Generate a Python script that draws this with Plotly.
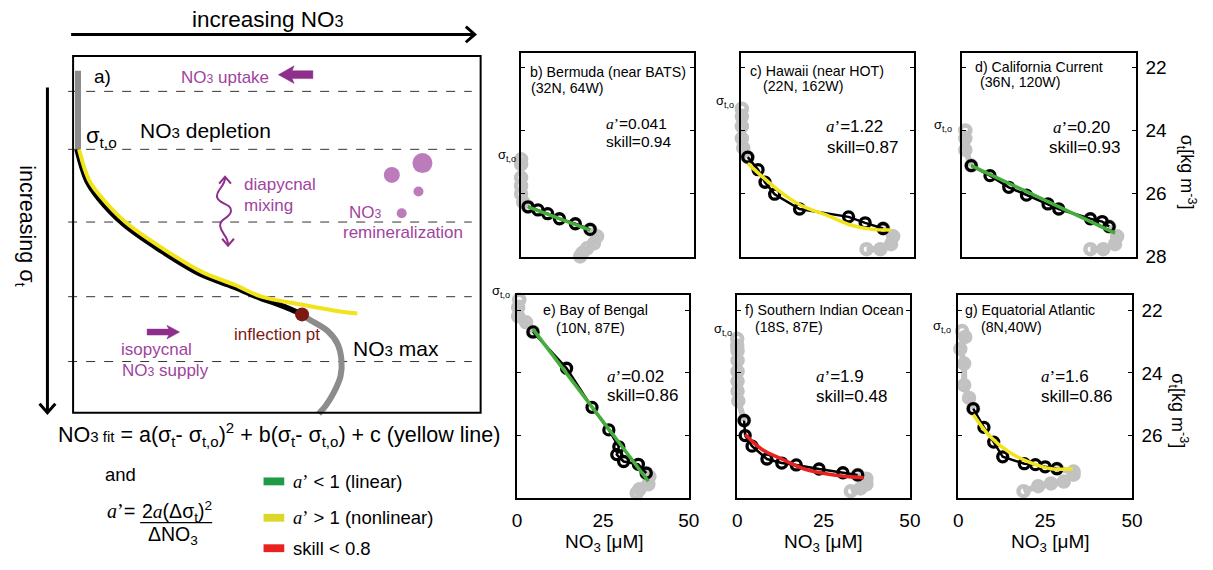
import plotly.graph_objects as go

W, H = 1213, 570
SANS = "Liberation Sans, Arial, sans-serif"
SERIF = "Liberation Serif"
PURPLE = "#a0449e"
PURPLE_D = "#8e2f8c"
GRAYPT = "#c2c2c2"
GREEN = "#45ad3c"
YELLOW = "#f1e41b"
RED = "#e8231f"

# ---------------- schematic panel a (canvas pixel units) ----------------
a_gray_top_x = [74, 74]
a_gray_top_y = [72, 152]
a_black_x = [73, 83, 95, 120, 158, 198, 232, 260, 275, 290, 301]
a_black_y = [152, 184, 202, 228, 255, 279, 292, 304, 309, 315, 320]
a_yellow_x = [75, 85, 97, 122, 160, 200, 233, 260, 300, 333, 357]
a_yellow_y = [152, 183, 200, 226, 253, 277, 290, 302, 310, 316, 319]
a_gray_bot_x = [301, 308, 327, 337, 341, 340, 333, 325, 318]
a_gray_bot_y = [320, 325, 337, 350, 367, 383, 400, 413, 421]
a_inflect_x = [301]
a_inflect_y = [320]
a_dash_y = [93, 152, 226, 302, 368]
a_dots_x = [423, 392, 419, 402]
a_dots_y = [166, 178, 195, 217]
a_dots_size = [20, 16, 10, 10]

# ---------------- profile panels (NO3 [uM] vs sigma_t) ----------------
b_gray_top_x = [0, 0, 0, 0, 0, 0.6, 2.0]
b_gray_top_y = [24.91, 25.07, 25.49, 25.75, 26.01, 26.27, 26.42]
b_black_x = [2.0, 4.9, 7.7, 11.1, 15.7, 20.0]
b_black_y = [26.42, 26.52, 26.64, 26.80, 26.96, 27.14]
b_fit_x = [2.0, 20.0]
b_fit_y = [26.42, 27.16]
b_gray_bot_x = [20.0, 22.0, 21.1, 19.1, 17.7, 17.1]
b_gray_bot_y = [27.14, 27.36, 27.58, 27.74, 27.89, 28.0]

c_gray_top_x = [0.2, 0.2, 0.2, 0.2, 0.6, 1.9]
c_gray_top_y = [23.30, 23.55, 23.86, 24.24, 24.55, 24.84]
c_black_x = [1.9, 4.9, 6.9, 9.7, 16.9, 31.1, 35.9, 41.1]
c_black_y = [24.84, 25.24, 25.64, 26.02, 26.49, 26.74, 26.93, 27.11]
c_fit_x = [1.9, 10.6, 17.4, 24.9, 31.7, 37.4, 43.4]
c_fit_y = [25.04, 25.88, 26.38, 26.69, 27.00, 27.13, 27.16]
c_gray_bot_x = [41.1, 44.0, 43.4, 40.3, 36.3]
c_gray_bot_y = [27.11, 27.36, 27.61, 27.77, 27.77]

d_gray_top_x = [0.9, 0.9, 0.9, 2.6]
d_gray_top_y = [23.99, 24.24, 24.61, 25.11]
d_black_x = [2.6, 8.0, 13.4, 18.5, 24.7, 27.8, 36.9, 40.3, 42.3]
d_black_y = [25.11, 25.43, 25.80, 26.05, 26.33, 26.49, 26.80, 26.89, 27.05]
d_fit_x = [2.6, 44.0]
d_fit_y = [25.11, 27.26]
d_gray_bot_x = [42.3, 44.6, 44.0, 40.6, 36.9]
d_gray_bot_y = [27.05, 27.36, 27.61, 27.77, 27.77]

e_gray_top_x = [0.6, 0.3, 0.3, 2.6, 4.6]
e_gray_top_y = [21.66, 21.91, 22.19, 22.38, 22.69]
e_black_x = [4.6, 14.4, 21.8, 26.7, 29.6, 29.0, 31.0, 35.3, 37.6]
e_black_y = [22.69, 23.85, 25.10, 25.82, 26.36, 26.61, 26.83, 26.92, 27.20]
e_fit_x = [4.6, 38.2]
e_fit_y = [22.60, 27.46]
e_gray_bot_x = [37.6, 38.5, 38.2, 35.6, 34.8]
e_gray_bot_y = [27.20, 27.31, 27.56, 27.72, 27.84]

f_gray_top_x = [0, 0, 0.1, 0.1, 0.1, 0.1, 0.1, 0.3, 2.0]
f_gray_top_y = [22.91, 23.13, 23.29, 23.60, 23.95, 24.26, 24.58, 24.89, 25.52]
f_black_x = [2.0, 2.3, 4.3, 8.6, 12.9, 17.1, 23.7, 30.6, 34.9]
f_black_y = [25.52, 26.00, 26.34, 26.75, 26.88, 26.94, 27.07, 27.19, 27.26]
f_fit_x = [2.3, 7.1, 12.9, 19.4, 28.0, 36.6]
f_fit_y = [25.97, 26.44, 26.75, 27.07, 27.26, 27.35]
f_gray_bot_x = [34.9, 37.4, 37.4, 35.7, 32.9]
f_gray_bot_y = [27.26, 27.38, 27.56, 27.69, 27.78]

g_gray_top_x = [1.1, 2.0, 0.6, 1.7, 1.7, 3.1, 4.3]
g_gray_top_y = [22.66, 22.85, 23.23, 23.70, 24.39, 24.80, 25.14]
g_black_x = [4.3, 7.4, 10.2, 12.8, 19.0, 22.2, 25.0, 28.4]
g_black_y = [25.14, 25.74, 26.21, 26.68, 26.90, 26.93, 27.00, 27.06]
g_fit_x = [4.3, 8.8, 14.5, 20.2, 26.7, 33.0]
g_fit_y = [25.33, 25.99, 26.52, 26.84, 27.06, 27.06]
g_gray_bot_x = [28.4, 33.2, 33.2, 30.4, 26.7, 23.0, 18.8]
g_gray_bot_y = [27.06, 27.15, 27.25, 27.47, 27.53, 27.62, 27.78]

panel_titles = [("b) Bermuda (near BATS)", "(32N, 64W)"),
                ("c) Hawaii (near HOT)", "(22N, 162W)"),
                ("d) California Current", "(36N, 120W)"),
                ("e) Bay of Bengal", "(10N, 87E)"),
                ("f) Southern Indian Ocean", "(18S, 87E)"),
                ("g) Equatorial Atlantic", "(8N,40W)")]
panel_aprime = ["0.041", "1.22", "0.20", "0.02", "1.9", "1.6"]
panel_skill = ["0.94", "0.87", "0.93", "0.86", "0.48", "0.86"]
panel_fitcolor = [GREEN, YELLOW, GREEN, GREEN, RED, YELLOW]
x_ticks = [0, 25, 50]
y_ticks = [22, 24, 26, 28]

# ---------------- layout geometry (pixels) ----------------
boxes = [(523, 54, 698, 262), (746, 54, 921, 262), (970, 54, 1146, 262),
         (519, 300, 693, 507), (742, 300, 917, 507), (966, 300, 1142, 507)]
yranges = [[28.03, 21.53]] * 3 + [[28.0, 21.5]] * 3

series = [
    (b_gray_top_x, b_gray_top_y, b_black_x, b_black_y, b_fit_x, b_fit_y, b_gray_bot_x, b_gray_bot_y),
    (c_gray_top_x, c_gray_top_y, c_black_x, c_black_y, c_fit_x, c_fit_y, c_gray_bot_x, c_gray_bot_y),
    (d_gray_top_x, d_gray_top_y, d_black_x, d_black_y, d_fit_x, d_fit_y, d_gray_bot_x, d_gray_bot_y),
    (e_gray_top_x, e_gray_top_y, e_black_x, e_black_y, e_fit_x, e_fit_y, e_gray_bot_x, e_gray_bot_y),
    (f_gray_top_x, f_gray_top_y, f_black_x, f_black_y, f_fit_x, f_fit_y, f_gray_bot_x, f_gray_bot_y),
    (g_gray_top_x, g_gray_top_y, g_black_x, g_black_y, g_fit_x, g_fit_y, g_gray_bot_x, g_gray_bot_y),
]

fig = go.Figure()

# ---- panel a traces (canvas axis x/y) ----
def canvas_line(xs, ys, color, width):
    fig.add_trace(go.Scatter(x=xs, y=ys, mode="lines", line=dict(color=color, width=width, shape="spline"),
                             xaxis="x", yaxis="y", hoverinfo="skip", showlegend=False))

canvas_line(a_gray_top_x, a_gray_top_y, "#8c8c8c", 6)
canvas_line(a_gray_bot_x, a_gray_bot_y, "#8c8c8c", 6)
canvas_line(a_black_x, a_black_y, "black", 5.5)
canvas_line(a_yellow_x, a_yellow_y, YELLOW, 4)
fig.add_trace(go.Scatter(x=a_inflect_x, y=a_inflect_y, mode="markers",
                         marker=dict(color="#7b1a12", size=14), xaxis="x", yaxis="y",
                         hoverinfo="skip", showlegend=False))
fig.add_trace(go.Scatter(x=a_dots_x, y=a_dots_y, mode="markers",
                         marker=dict(color=PURPLE, size=a_dots_size, line=dict(width=0)),
                         xaxis="x", yaxis="y", hoverinfo="skip", showlegend=False))

# ---- small panels ----
for i, (gtx, gty, bx, by, fx, fy, gbx, gby) in enumerate(series):
    n = i + 2
    xa, ya = "x%d" % n, "y%d" % n
    for gx, gy in ((gtx, gty), (gbx, gby)):
        fig.add_trace(go.Scatter(x=gx, y=gy, mode="lines+markers",
                                 line=dict(color=GRAYPT, width=6),
                                 marker=dict(symbol="circle-open", size=10, color=GRAYPT, line=dict(width=4.5)),
                                 xaxis=xa, yaxis=ya, cliponaxis=False, hoverinfo="skip", showlegend=False))
    fig.add_trace(go.Scatter(x=bx, y=by, mode="lines+markers",
                             line=dict(color="black", width=2.5),
                             marker=dict(symbol="circle-open", size=10, color="black", line=dict(width=3.3)),
                             xaxis=xa, yaxis=ya, cliponaxis=False, hoverinfo="skip", showlegend=False))
    fig.add_trace(go.Scatter(x=fx, y=fy, mode="lines",
                             line=dict(color=panel_fitcolor[i], width=3.5, shape="spline"),
                             xaxis=xa, yaxis=ya, hoverinfo="skip", showlegend=False))

layout = dict(width=W, height=H, margin=dict(l=0, r=0, t=0, b=0), autosize=False,
              paper_bgcolor="white", plot_bgcolor="rgba(0,0,0,0)", showlegend=False,
              font=dict(family=SANS, color="black"))
layout["xaxis"] = dict(domain=[0, 1], range=[0, W], visible=False, fixedrange=True)
layout["yaxis"] = dict(domain=[0, 1], range=[H, 0], visible=False, fixedrange=True)

for i, (x0, y0, x1, y1) in enumerate(boxes):
    n = i + 2
    bottom = i >= 3
    right = i in (2, 5)
    layout["xaxis%d" % n] = dict(domain=[x0 / W, x1 / W], range=[0, 50], anchor="y%d" % n,
                                 showline=True, linecolor="black", linewidth=1.5, mirror=True,
                                 showgrid=False, zeroline=False, ticks="", tickvals=x_ticks,
                                 showticklabels=bottom, tickfont=dict(size=19), ticklabelstandoff=4)
    layout["yaxis%d" % n] = dict(domain=[1 - y1 / H, 1 - y0 / H], range=yranges[i], anchor="x%d" % n,
                                 showline=True, linecolor="black", linewidth=1.5, mirror="ticks",
                                 showgrid=False, zeroline=False, ticks="inside", ticklen=4,
                                 tickwidth=1, tickcolor="black", tickvals=y_ticks,
                                 ticktext=[str(v) for v in y_ticks[:3]] + (["28"] if i == 2 else [""]),
                                 side="right" if right else "left", showticklabels=right,
                                 tickfont=dict(size=19), ticklabelstandoff=4)

# ---------------- annotations ----------------
ann = []
def T(x, y, text, size=14, color="black", xa="center", ya="middle", angle=0, family=SANS):
    ann.append(dict(x=x, y=y, xref="x", yref="y", text=text, showarrow=False,
                    font=dict(size=size, color=color, family=family),
                    xanchor=xa, yanchor=ya, textangle=angle))

def no3(s):
    return 'NO<span style="font-size:%.1fpx">3</span>' % (0.72 * s)

APR = '<span style="font-family:Liberation Serif"><i>a</i>\u2019</span>'

T(267, 20, "increasing " + no3(22.5), 22.5)
T(20, 230, "increasing \u03c3<sub>t</sub>", 21.5, angle=90)
T(99, 78, "a)", 19)
T(223, 79, no3(17) + " uptake", 17, PURPLE)
T(98, 139, "\u03c3<sub>t,o</sub>", 22)
T(203, 133, no3(21) + " depletion", 21)
T(240, 188, "diapycnal", 17, PURPLE, xa="left")
T(240, 209, "mixing", 17, PURPLE, xa="left")
T(365, 216, no3(17), 17, PURPLE)
T(403, 237, "remineralization", 17, PURPLE)
T(276, 340, "inflection pt", 17, "#7b1a12")
T(116, 356, "isopycnal", 17, PURPLE, xa="left")
T(117, 377, no3(17) + " supply", 17, PURPLE, xa="left")
T(396, 355, no3(21) + " max", 21)

T(278, 442, 'NO<span style="font-size:15px">3 fit</span> = a(\u03c3<sub>t</sub>- \u03c3<sub>t,o</sub>)<sup>2</sup> + b(\u03c3<sub>t</sub>- \u03c3<sub>t,o</sub>) + c (yellow line)', 21.5)
T(117, 483, "and", 18.5)
T(118, 520, '<span style="font-family:Liberation Serif"><i>a</i>\u2019</span>=', 20)
T(174, 521, '2<span style="font-family:Liberation Serif"><i>a</i></span>(\u0394\u03c3<sub>t</sub>)<sup>2</sup>', 19.5)
T(170, 545, "\u0394NO<sub>3</sub>", 19.5)
T(290, 490, APR + " &lt; 1 (linear)", 18.5, xa="left")
T(290, 527, APR + " &gt; 1 (nonlinear)", 18.5, xa="left")
T(290, 558, "skill &lt; 0.8", 18.5, xa="left")

title_pos = [((530, 73), (531, 90)), ((753, 72), (766, 88)), ((981, 68), (986, 83)),
             ((543, 316), (556, 334)), ((748, 316), (758, 333)), ((971, 316), (987, 333))]
stat_pos = [((607, 126), (607, 144)), ((830, 129), (831, 150)), ((1060, 130), (1056, 150)),
            ((608, 383), (608, 403)), ((820, 383), (820, 404)), ((1048, 383), (1048, 404))]
stat_size = [15.5, 17, 17, 17, 17, 17]
sig0_pos = [(509, 158), (730, 103), (951, 128), (503, 297), (728, 335), (950, 332)]
for i in range(6):
    (t1, t2) = panel_titles[i]
    (p1, p2) = title_pos[i]
    T(p1[0], p1[1], t1, 14.2, xa="left")
    T(p2[0], p2[1], t2, 14.2, xa="left")
    (s1, s2) = stat_pos[i]
    T(s1[0], s1[1], APR + "=" + panel_aprime[i], stat_size[i], xa="left")
    T(s2[0], s2[1], "skill=" + panel_skill[i], stat_size[i], xa="left")
    T(sig0_pos[i][0], sig0_pos[i][1], "\u03c3<sub>t,o</sub>", 13)

for cx in (608, 829, 1059):
    T(cx, 553, "NO<sub>3</sub> [\u03bcM]", 19)
T(1197, 175, "\u03c3<sub>t</sub>[kg m<sup>-3</sup>]", 18, angle=90)
T(1189, 418, "\u03c3<sub>t</sub>[kg m<sup>-3</sup>]", 18, angle=90)

layout["annotations"] = ann

# ---------------- shapes ----------------
shapes = []
def S(**kw):
    kw.setdefault("xref", "x")
    kw.setdefault("yref", "y")
    shapes.append(kw)

for yy in a_dash_y:
    S(type="line", x0=64, x1=473, y0=yy, y1=yy, line=dict(color="#333333", width=1, dash="dash"), layer="below")
S(type="rect", x0=69, y0=57, x1=482, y1=420, line=dict(color="black", width=2))
# big arrows
S(type="line", x0=67, x1=476, y0=35, y1=35, line=dict(color="black", width=3))
S(type="path", path="M 467 27 L 476 35 L 467 43", line=dict(color="black", width=3))
S(type="line", x0=43, x1=43, y0=89, y1=419, line=dict(color="black", width=3))
S(type="path", path="M 35 411 L 43 420 L 51 411", line=dict(color="black", width=3))
# purple arrows
S(type="path", path="M 312 72 L 291 72 L 293 67 L 277 76 L 293 85 L 291 80 L 312 80 Z",
  fillcolor=PURPLE_D, line=dict(color=PURPLE_D, width=0.5))
S(type="path", path="M 144 335 L 166 335 L 164 331 L 177 338 L 164 345 L 166 341 L 144 341 Z",
  fillcolor=PURPLE_D, line=dict(color=PURPLE_D, width=0.5))
S(type="path", path="M 223 181 C 223 190 213 194 215 201 C 217 208 230 207 229 215 C 228 223 217 222 218 230 C 219 238 226 240 226 249",
  line=dict(color=PURPLE_D, width=2))
S(type="path", path="M 217 187 L 223 180 L 229 187", line=dict(color=PURPLE_D, width=2))
S(type="path", path="M 220 243 L 226 250 L 232 243", line=dict(color=PURPLE_D, width=2))
# fraction bar
S(type="line", x0=137, x1=210, y0=532, y1=532, line=dict(color="black", width=1.2))
# legend swatches
for (yy, col) in ((490, "#1f9b48"), (527, "#dcd62a"), (558, "#e8231f")):
    S(type="rect", x0=262, x1=283, y0=yy - 4, y1=yy + 4, fillcolor=col, line=dict(width=0))

layout["shapes"] = shapes
fig.update_layout(**layout)
fig.write_html("out.html", config={"displayModeBar": False},
               post_script="document.body.style.margin='0';")
